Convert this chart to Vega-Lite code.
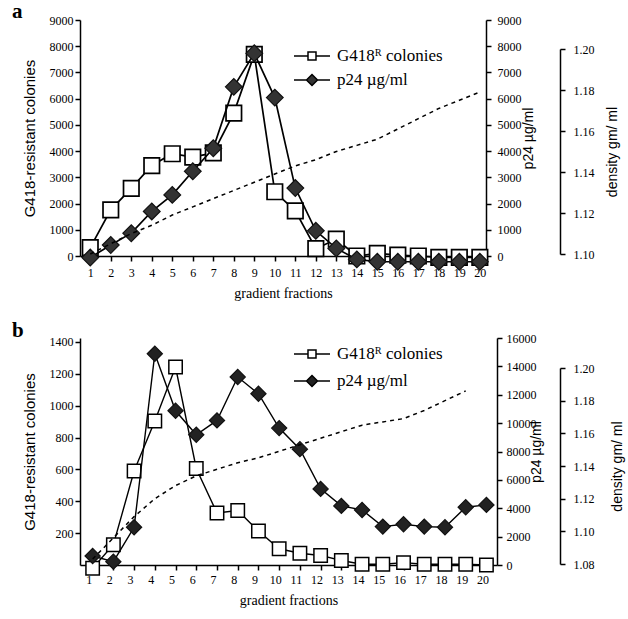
{
  "$schema": "https://vega.github.io/schema/vega-lite/v6.json",
  "background": "white",
  "padding": {"left": 12, "top": 1, "right": 2, "bottom": 4},
  "config": {
    "view": {"stroke": null},
    "axis": {
      "grid": false, "domainColor": "black", "tickColor": "black", "domainWidth": 1.5, "tickWidth": 1.5,
      "labelColor": "black", "titleColor": "black", "labelFont": "Liberation Serif", "labelFontSize": 12,
      "titleFont": "Liberation Sans", "titleFontSize": 15, "titleFontWeight": "normal", "tickSize": 5,
      "labelFlush": false, "labelOverlap": false
    },
    "legend": {
      "symbolSize": 400, "symbolStrokeWidth": 1.5, "symbolOpacity": 1,
      "labelFont": "Liberation Serif", "labelFontSize": 17, "labelColor": "black", "labelOffset": 14,
      "rowPadding": 5, "padding": 0, "labelLimit": 300, "titlePadding": 0
    }
  },
  "datasets": {
    "a": [
      {"f": 1, "col": 320, "p24": -60, "dens": 1.100},
      {"f": 2, "col": 1760, "p24": 420, "dens": 1.105},
      {"f": 3, "col": 2580, "p24": 870, "dens": 1.110},
      {"f": 4, "col": 3450, "p24": 1700, "dens": 1.114},
      {"f": 5, "col": 3900, "p24": 2330, "dens": 1.119},
      {"f": 6, "col": 3770, "p24": 3230, "dens": 1.123},
      {"f": 7, "col": 3930, "p24": 4110, "dens": 1.127},
      {"f": 8, "col": 5450, "p24": 6450, "dens": 1.131},
      {"f": 9, "col": 7690, "p24": 7730, "dens": 1.135},
      {"f": 10, "col": 2450, "p24": 6040, "dens": 1.139},
      {"f": 11, "col": 1720, "p24": 2590, "dens": 1.143},
      {"f": 12, "col": 280, "p24": 960, "dens": 1.146},
      {"f": 13, "col": 640, "p24": 290, "dens": 1.150},
      {"f": 14, "col": 0, "p24": -130, "dens": 1.153},
      {"f": 15, "col": 100, "p24": -220, "dens": 1.156},
      {"f": 16, "col": 30, "p24": -220, "dens": 1.161},
      {"f": 17, "col": 0, "p24": -220, "dens": 1.166},
      {"f": 18, "col": -50, "p24": -220, "dens": 1.171},
      {"f": 19, "col": -50, "p24": -220, "dens": 1.175},
      {"f": 20, "col": -50, "p24": -220, "dens": 1.179}
    ],
    "b": [
      {"f": 1, "col": -20, "p24": 635, "dens": 1.083},
      {"f": 2, "col": 127, "p24": 235, "dens": 1.096},
      {"f": 3, "col": 590, "p24": 2660, "dens": 1.109},
      {"f": 4, "col": 904, "p24": 14890, "dens": 1.120},
      {"f": 5, "col": 1243, "p24": 10870, "dens": 1.128},
      {"f": 6, "col": 606, "p24": 9180, "dens": 1.134},
      {"f": 7, "col": 326, "p24": 10190, "dens": 1.138},
      {"f": 8, "col": 342, "p24": 13250, "dens": 1.142},
      {"f": 9, "col": 213, "p24": 12070, "dens": 1.145},
      {"f": 10, "col": 102, "p24": 9650, "dens": 1.149},
      {"f": 11, "col": 74, "p24": 8165, "dens": 1.153},
      {"f": 12, "col": 60, "p24": 5365, "dens": 1.157},
      {"f": 13, "col": 28, "p24": 4165, "dens": 1.161},
      {"f": 14, "col": 5, "p24": 3880, "dens": 1.165},
      {"f": 15, "col": 5, "p24": 2705, "dens": 1.167},
      {"f": 16, "col": 15, "p24": 2870, "dens": 1.169},
      {"f": 17, "col": 5, "p24": 2705, "dens": 1.174},
      {"f": 18, "col": 5, "p24": 2660, "dens": 1.180},
      {"f": 19, "col": 5, "p24": 4070, "dens": 1.186},
      {"f": 20, "col": 0, "p24": 4235, "dens": null}
    ],
    "series": [{"s": "G418ᴿ colonies"}, {"s": "p24 µg/ml"}]
  },
  "spacing": 20,
  "resolve": {"scale": {"fill": "independent", "shape": "independent", "stroke": "independent"}, "legend": {"fill": "independent", "shape": "independent", "stroke": "independent"}},
  "vconcat": [
    {
      "title": {"text": "a", "anchor": "start", "frame": "bounds", "font": "Liberation Serif", "fontSize": 21, "fontWeight": "bold", "color": "black", "dx": -10, "offset": -8},
      "width": 406, "height": 236,
      "data": {"name": "a"},
      "encoding": {
        "x": {"field": "f", "type": "quantitative", "scale": {"domain": [0.5, 20.3], "nice": false, "zero": false},
          "axis": {"values": [1,2,3,4,5,6,7,8,9,10,11,12,13,14,15,16,17,18,19,20], "title": "gradient fractions", "titleFont": "Liberation Serif", "titleFontSize": 14, "labelPadding": 6, "titlePadding": 8}}
      },
      "layer": [
        {
          "encoding": {"y": {"field": "col", "type": "quantitative", "scale": {"domain": [0, 9000], "nice": false},
            "axis": {"orient": "left", "format": "d", "values": [0,1000,2000,3000,4000,5000,6000,7000,8000,9000], "title": "G418-resistant colonies", "labelPadding": 2, "titlePadding": 12}}},
          "layer": [
            {"mark": {"type": "line", "color": "black", "strokeWidth": 1.7}},
            {"mark": {"type": "point", "shape": "square", "filled": true, "fill": "white", "size": 240, "stroke": "black", "strokeWidth": 1.7, "opacity": 1}}
          ]
        },
        {
          "encoding": {"y": {"field": "p24", "type": "quantitative", "scale": {"domain": [0, 9000], "nice": false},
            "axis": {"orient": "right", "format": "d", "values": [0,1000,2000,3000,4000,5000,6000,7000,8000,9000], "title": "p24 µg/ml", "titleFontSize": 14, "titleAngle": -90, "titleBaseline": "top", "labelPadding": 6, "titlePadding": 0}}},
          "layer": [
            {"mark": {"type": "line", "color": "black", "strokeWidth": 1.7}},
            {"mark": {"type": "point", "shape": "diamond", "filled": true, "fill": "#333333", "size": 280, "stroke": "#111111", "strokeWidth": 1.2, "opacity": 1}}
          ]
        },
        {
          "mark": {"type": "line", "color": "black", "strokeDash": [4, 4], "strokeWidth": 1.5},
          "encoding": {"y": {"field": "dens", "type": "quantitative", "scale": {"domain": [1.10, 1.20], "range": [234, 29], "nice": false, "zero": false},
            "axis": {"orient": "right", "offset": 74, "values": [1.10, 1.12, 1.14, 1.16, 1.18, 1.20], "format": ".2f", "title": "density gm/ ml", "titleFontSize": 14, "titleAngle": -90, "titleBaseline": "top", "labelPadding": 8, "titlePadding": 11}}}
        },
        {
          "data": {"name": "series"},
          "transform": [{"filter": "false"}],
          "mark": {"type": "point", "filled": true, "strokeWidth": 1.5, "opacity": 1},
          "encoding": {
            "shape": {"field": "s", "type": "nominal",
              "scale": {"domain": ["G418ᴿ colonies", "p24 µg/ml"], "range": ["M-1.8,0H-0.4M0.4,0H1.8M-0.4,-0.4H0.4V0.4H-0.4Z", "M-1.8,0H-0.55M0.55,0H1.8M0,-0.55L0.55,0L0,0.55L-0.55,0Z"]},
              "legend": {"orient": "none", "legendX": 221, "legendY": 25, "title": null, "rowPadding": 5}},
            "fill": {"field": "s", "type": "nominal",
              "scale": {"domain": ["G418ᴿ colonies", "p24 µg/ml"], "range": ["white", "#333333"]},
              "legend": {"orient": "none", "legendX": 221, "legendY": 25, "title": null, "rowPadding": 5}},
            "stroke": {"field": "s", "type": "nominal",
              "scale": {"domain": ["G418ᴿ colonies", "p24 µg/ml"], "range": ["black", "black"]},
              "legend": {"orient": "none", "legendX": 221, "legendY": 25, "title": null, "rowPadding": 5}}
          }
        }
      ],
      "resolve": {"scale": {"y": "independent"}}
    },
    {
      "title": {"text": "b", "anchor": "start", "frame": "bounds", "font": "Liberation Serif", "fontSize": 21, "fontWeight": "bold", "color": "black", "dx": -10, "offset": -9},
      "width": 417, "height": 227,
      "data": {"name": "b"},
      "encoding": {
        "x": {"field": "f", "type": "quantitative", "scale": {"domain": [0.39, 20.51], "nice": false, "zero": false},
          "axis": {"values": [1,2,3,4,5,6,7,8,9,10,11,12,13,14,15,16,17,18,19,20], "title": "gradient fractions", "titleFont": "Liberation Serif", "titleFontSize": 14, "labelPadding": 4, "titlePadding": 8, "labelOffset": -4}}
      },
      "layer": [
        {
          "encoding": {"y": {"field": "col", "type": "quantitative", "scale": {"domain": [0, 1425], "nice": false},
            "axis": {"orient": "left", "format": "d", "values": [200,400,600,800,1000,1200,1400], "title": "G418-resistant colonies", "labelPadding": 2, "titlePadding": 12}}},
          "layer": [
            {"mark": {"type": "line", "color": "black", "strokeWidth": 1.4}},
            {"mark": {"type": "point", "shape": "square", "filled": true, "fill": "white", "size": 180, "stroke": "black", "strokeWidth": 1.5, "opacity": 1}}
          ]
        },
        {
          "encoding": {"y": {"field": "p24", "type": "quantitative", "scale": {"domain": [0, 16000], "nice": false},
            "axis": {"orient": "right", "format": "d", "values": [0,2000,4000,6000,8000,10000,12000,14000,16000], "title": "p24 µg/ml", "titleFontSize": 14, "titleAngle": -90, "titleBaseline": "top", "labelPadding": 4, "titlePadding": -7}}},
          "layer": [
            {"mark": {"type": "line", "color": "black", "strokeWidth": 1.4}},
            {"mark": {"type": "point", "shape": "diamond", "filled": true, "fill": "#222222", "size": 230, "stroke": "#111111", "strokeWidth": 1.2, "opacity": 1}}
          ]
        },
        {
          "mark": {"type": "line", "color": "black", "strokeDash": [4, 4], "strokeWidth": 1.5},
          "encoding": {"y": {"field": "dens", "type": "quantitative", "scale": {"domain": [1.08, 1.20], "range": [226, 30], "nice": false, "zero": false},
            "axis": {"orient": "right", "offset": 63, "values": [1.08, 1.10, 1.12, 1.14, 1.16, 1.18, 1.20], "format": ".2f", "title": "density gm/ ml", "titleFontSize": 14, "titleAngle": -90, "titleBaseline": "top", "labelPadding": 8, "titlePadding": 16}}}
        },
        {
          "data": {"name": "series"},
          "transform": [{"filter": "false"}],
          "mark": {"type": "point", "filled": true, "strokeWidth": 1.5, "opacity": 1},
          "encoding": {
            "shape": {"field": "s", "type": "nominal",
              "scale": {"domain": ["G418ᴿ colonies", "p24 µg/ml"], "range": ["M-1.8,0H-0.4M0.4,0H1.8M-0.4,-0.4H0.4V0.4H-0.4Z", "M-1.8,0H-0.55M0.55,0H1.8M0,-0.55L0.55,0L0,0.55L-0.55,0Z"]},
              "legend": {"orient": "none", "legendX": 221, "legendY": 5, "title": null, "rowPadding": 8}},
            "fill": {"field": "s", "type": "nominal",
              "scale": {"domain": ["G418ᴿ colonies", "p24 µg/ml"], "range": ["white", "#222222"]},
              "legend": {"orient": "none", "legendX": 221, "legendY": 5, "title": null, "rowPadding": 8}},
            "stroke": {"field": "s", "type": "nominal",
              "scale": {"domain": ["G418ᴿ colonies", "p24 µg/ml"], "range": ["black", "black"]},
              "legend": {"orient": "none", "legendX": 221, "legendY": 5, "title": null, "rowPadding": 8}}
          }
        }
      ],
      "resolve": {"scale": {"y": "independent"}}
    }
  ]
}
